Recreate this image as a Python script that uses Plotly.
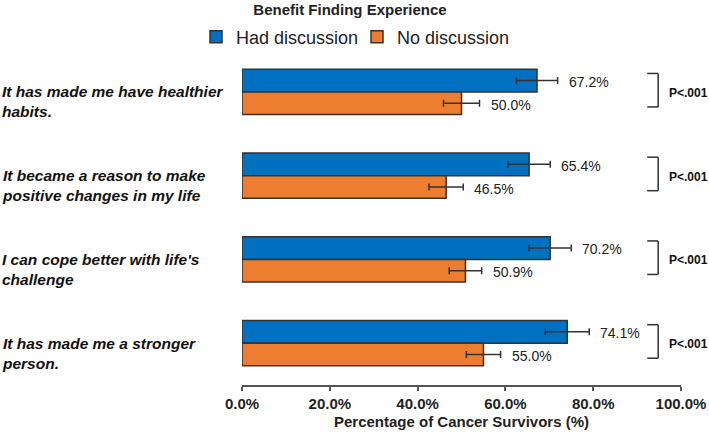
import plotly.graph_objects as go

categories = [
    "It has made me have healthier<br>habits.",
    "It became a reason to make<br>positive changes in my life",
    "I can cope better with life's<br>challenge",
    "It has made me a stronger<br>person.",
]
had_values = [67.2, 65.4, 70.2, 74.1]
had_errors = [4.7, 4.8, 4.8, 5.0]
no_values = [50.0, 46.5, 50.9, 55.0]
no_errors = [4.1, 3.9, 3.7, 3.9]
p_labels = ["P<.001", "P<.001", "P<.001", "P<.001"]
x_ticks = [0, 20, 40, 60, 80, 100]

W, H = 709, 444
ML, MR, MT, MB = 242, 28, 50, 59
PW = W - ML - MR
PH = H - MT - MB

FONT = "Liberation Sans, Arial, sans-serif"
DARK = "#333333"
BLUE = "#0070C0"
ORANGE = "#ED7D31"

idx = list(range(len(categories)))

fig = go.Figure()
fig.add_trace(go.Bar(
    y=idx, x=had_values, orientation="h", name="Had discussion",
    marker=dict(color=BLUE, line=dict(color=DARK, width=1.5)),
    error_x=dict(type="data", array=had_errors, color=DARK, thickness=1.5, width=3.5),
))
fig.add_trace(go.Bar(
    y=idx, x=no_values, orientation="h", name="No discussion",
    marker=dict(color=ORANGE, line=dict(color=DARK, width=1.5)),
    error_x=dict(type="data", array=no_errors, color=DARK, thickness=1.5, width=3.5),
))

annotations = []
shapes = []
for i, cat in enumerate(categories):
    annotations.append(dict(
        xref="paper", yref="y", x=-ML / PW, y=i, xanchor="left", yanchor="middle",
        align="left", text="<b><i>" + cat + "</i></b>", showarrow=False,
        yshift=-10, font=dict(family=FONT, size=15.5, color="#111111"),
    ))
    annotations.append(dict(
        xref="x", yref="y", x=had_values[i] + had_errors[i], y=i, xanchor="left",
        yanchor="middle", text=f"{had_values[i]:.1f}%", showarrow=False,
        xshift=9, yshift=10, font=dict(family=FONT, size=14, color="#222222"),
    ))
    annotations.append(dict(
        xref="x", yref="y", x=no_values[i] + no_errors[i], y=i, xanchor="left",
        yanchor="middle", text=f"{no_values[i]:.1f}%", showarrow=False,
        xshift=9, yshift=-13, font=dict(family=FONT, size=14, color="#222222"),
    ))
    annotations.append(dict(
        xref="x", yref="y", x=96.8, y=i, xanchor="left", yanchor="middle",
        text="<b>" + p_labels[i].replace("<", "&lt;") + "</b>", showarrow=False,
        yshift=-1, font=dict(family=FONT, size=12, color="#111111"),
    ))
    x0, x1 = 92.3, 94.8
    for (a, b, c, d) in [(x0, i - 0.22, x1, i - 0.22), (x1, i - 0.22, x1, i + 0.18),
                         (x0, i + 0.18, x1, i + 0.18)]:
        shapes.append(dict(type="line", xref="x", yref="y", x0=a, y0=b, x1=c, y1=d,
                           line=dict(color=DARK, width=1.5)))

fig.update_layout(
    width=W, height=H,
    margin=dict(l=ML, r=MR, t=MT, b=MB, autoexpand=False),
    paper_bgcolor="white", plot_bgcolor="white",
    barmode="group", bargap=0.46, bargroupgap=0,
    showlegend=True,
    legend=dict(orientation="h", xref="container", yref="container",
                x=196 / W, xanchor="left", y=1 - 37 / H, yanchor="middle",
                entrywidth=116, entrywidthmode="pixels",
                font=dict(family=FONT, size=18, color="#222222"), traceorder="normal",
                itemclick=False, bgcolor="rgba(0,0,0,0)"),
    title=dict(text="<b>Benefit Finding Experience</b>", x=350 / W, xanchor="center",
               xref="container", y=1 - 10 / H, yref="container", yanchor="middle",
               font=dict(family=FONT, size=15, color="#222222")),
    xaxis=dict(range=[0, 100], tickvals=x_ticks, ticktext=[f"{v:.1f}%" for v in x_ticks],
               automargin=False,
               showgrid=False, zeroline=False, showline=True, linecolor="#555555", linewidth=1.5,
               ticks="outside", ticklen=4, tickcolor="#555555", tickwidth=1.5,
               tickfont=dict(family=FONT, size=15, color="#222222", weight="bold"),
               title=dict(text="<b>Percentage of Cancer Survivors (%)</b>", standoff=6,
                          font=dict(family=FONT, size=15, color="#222222"))),
    yaxis=dict(range=[3.5, -0.5], showticklabels=False, showgrid=False, zeroline=False,
               showline=False, ticks="", automargin=False),
    annotations=annotations,
    shapes=shapes,
)

fig.write_html(
    "out.html",
    config={"displayModeBar": False},
    post_script="document.body.style.margin='0';document.body.style.padding='0';",
)
